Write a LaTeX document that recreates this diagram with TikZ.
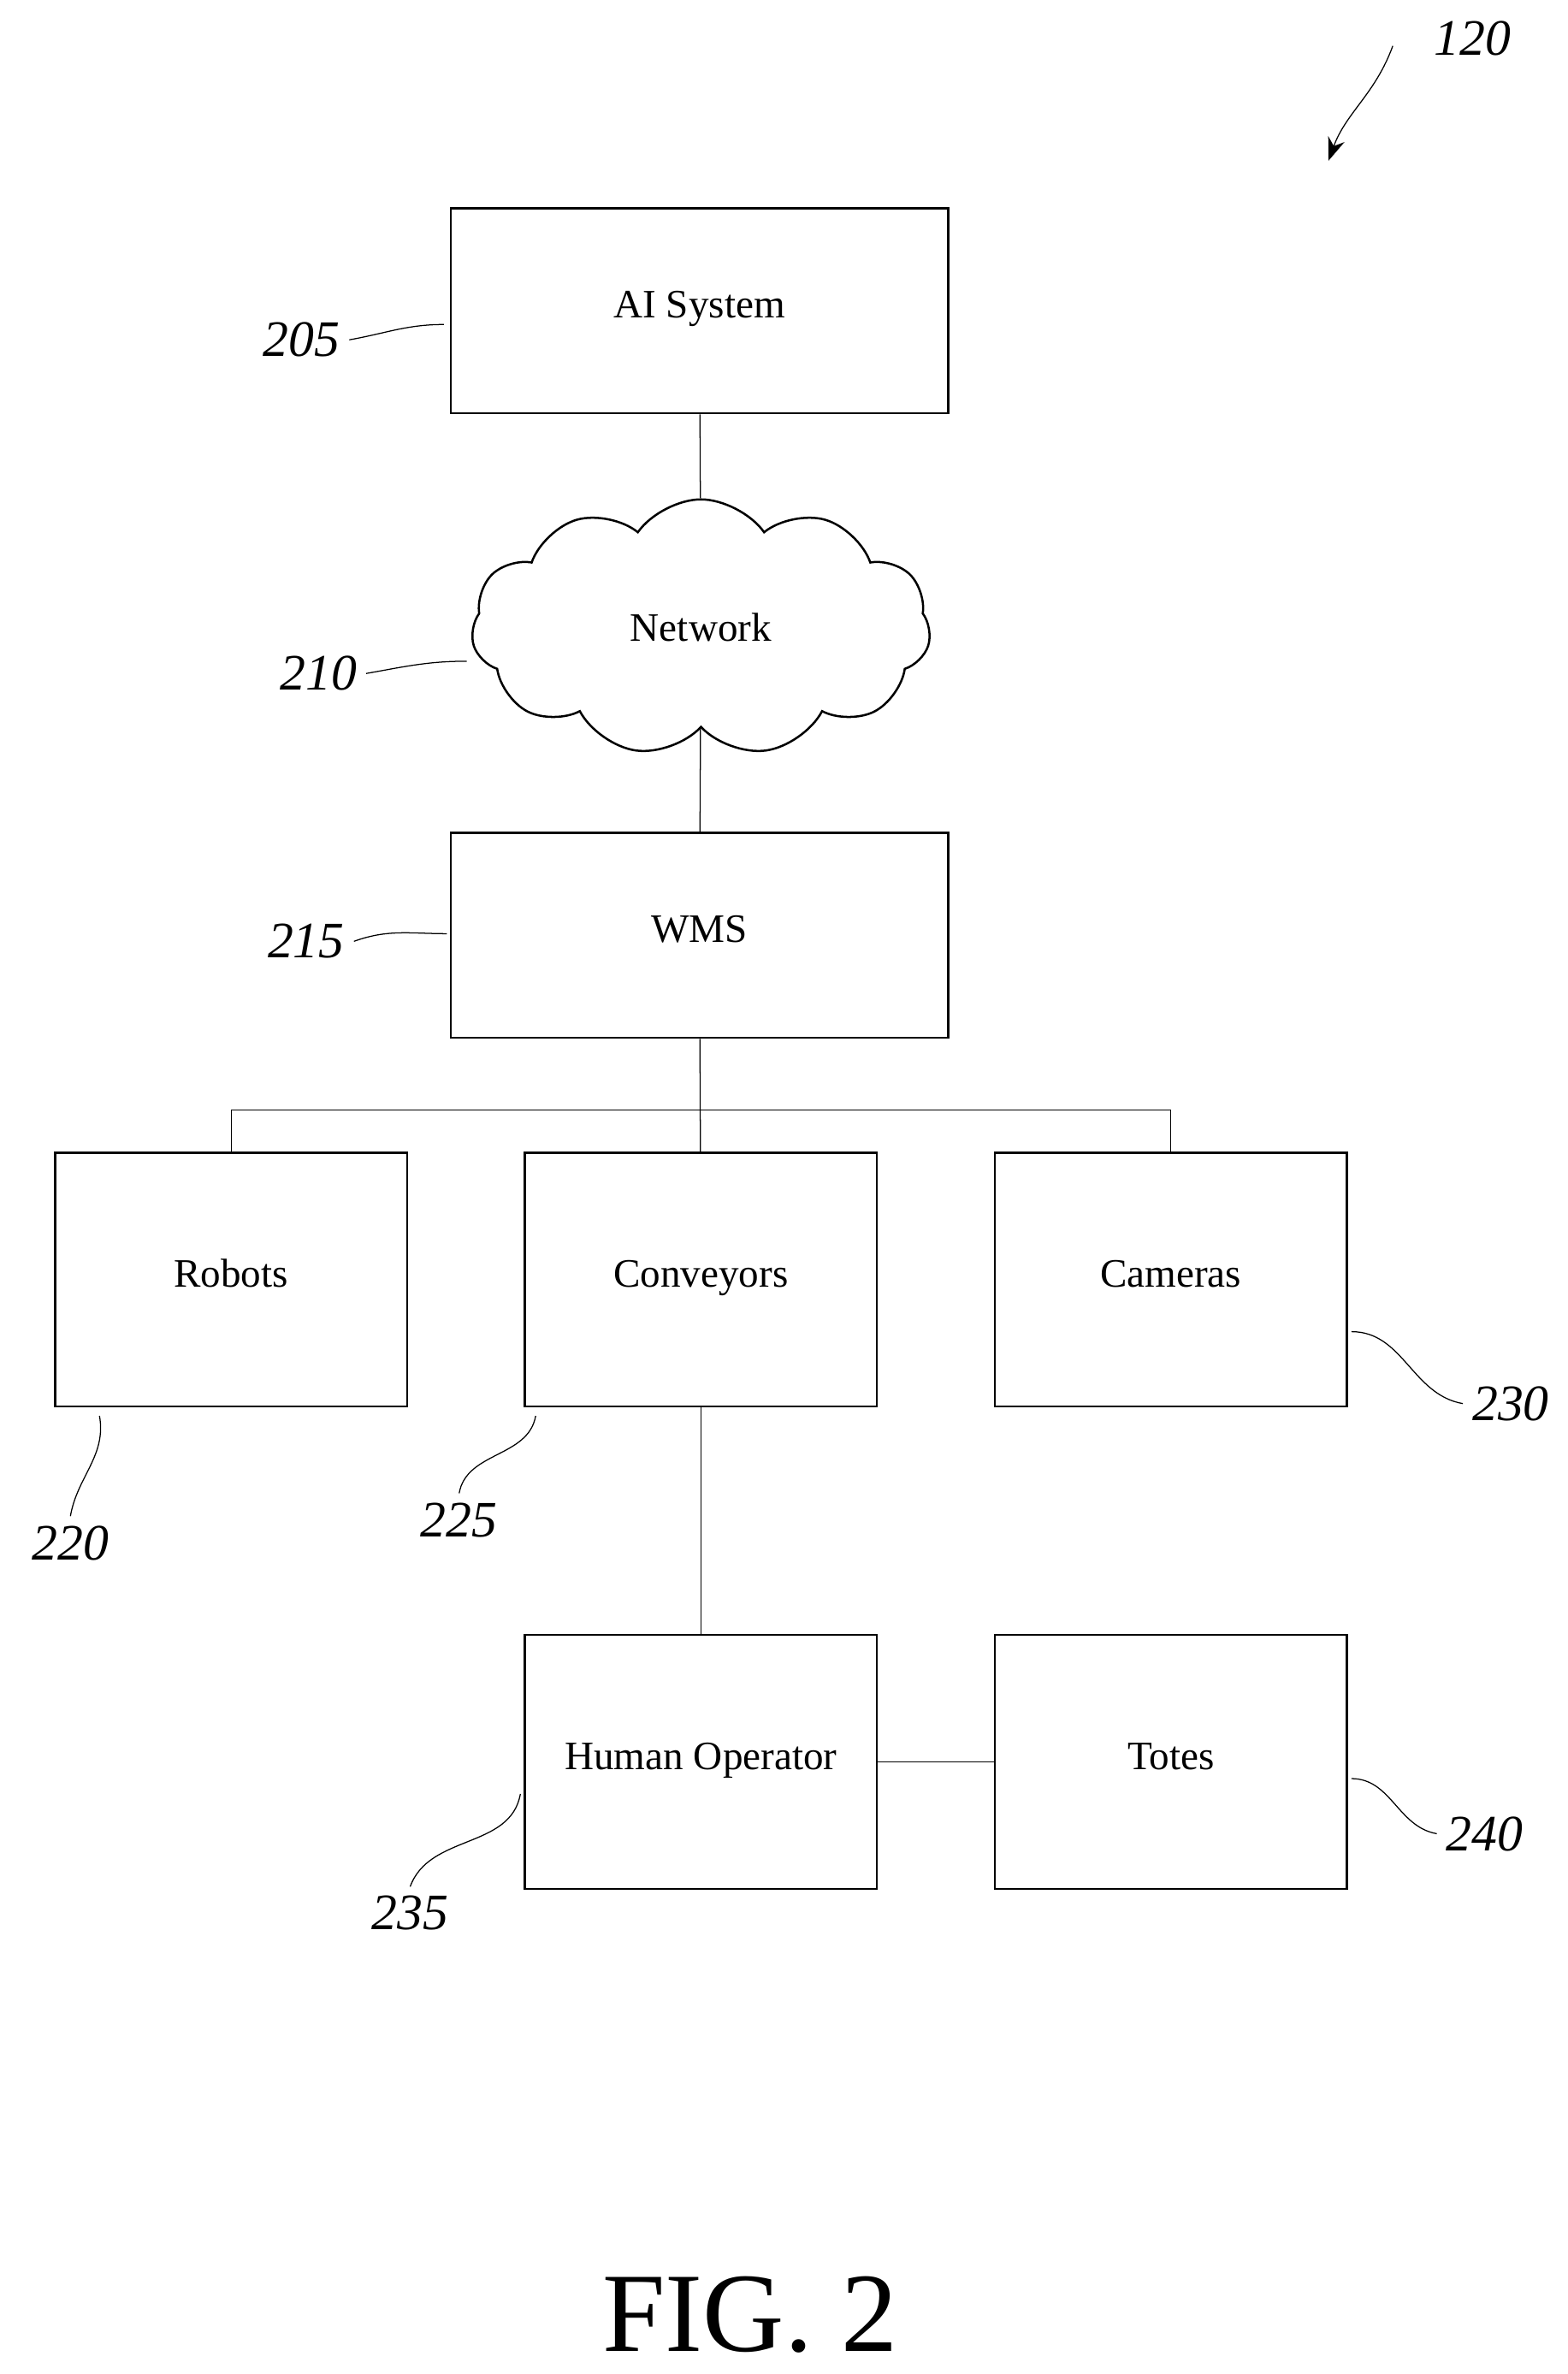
\documentclass[tikz,border=0pt]{standalone}
\usepackage{fontspec}
\setmainfont{Liberation Serif}
\usetikzlibrary{arrows.meta,positioning,shapes.symbols,calc}

\begin{document}
\begin{tikzpicture}[x=0.02cm, y=-0.02cm,
  box/.style={draw, thick, minimum width=4.6cm, minimum height=3.32cm, text height=1.5ex, text depth=0.3ex, font=\fontsize{15}{18}\selectfont},
  wide/.style={box, minimum width=6.5cm, minimum height=2.68cm},
  ref/.style={font=\itshape\fontsize{19}{22}\selectfont},
  lead/.style={thin}
]
\useasboundingbox (0,0) rectangle (1024,1551);
% blocks
\node[wide] (ai) at (457,203) {AI System};
\node[draw, thick, cloud, cloud puffs=11, cloud puff arc=110, aspect=1.8,
  minimum width=6.0cm, minimum height=3.35cm, font=\fontsize{15}{18}\selectfont] (net) at (458,410) {Network};
\node[wide] (wms) at (457,611) {WMS};
\node[box] (rob) at (151,836) {Robots};
\node[box] (conv) at (458,836) {Conveyors};
\node[box] (cam) at (765,836) {Cameras};
\node[box] (hum) at (458,1151) {Human Operator};
\node[box] (tote) at (765,1151) {Totes};
% links
\coordinate (bus) at (458,725);
\draw (ai) -- (net);
\draw (net) -- (wms);
\draw (wms) -- (conv);
\draw (rob.north) |- (bus) -| (cam.north);
\draw (conv) -- (hum);
\draw (hum) -- (tote);
% reference numerals
\node[ref] (r120) at (962,25) {120};
\draw[lead, -{Stealth[length=3mm]}] (910,30) to[out=250,in=70] (868,105);
\node[ref] (r205) at (197,222) {205};
\draw[lead] (r205.east) to[out=10,in=180] (290,212);
\node[ref] (r210) at (208,440) {210};
\draw[lead] (r210.east) to[out=10,in=180] (305,432);
\node[ref] (r215) at (200,615) {215};
\draw[lead] (r215.east) to[out=20,in=180] (292,610);
\node[ref] (r220) at (46,1008) {220};
\draw[lead] (r220.north) to[out=80,in=280] (65,925);
\node[ref] (r225) at (300,993) {225};
\draw[lead] (r225.north) to[out=80,in=260] (350,925);
\node[ref] (r230) at (987,917) {230};
\draw[lead] (r230.west) to[out=170,in=0] (883,870);
\node[ref] (r235) at (268,1250) {235};
\draw[lead] (r235.north) to[out=70,in=260] (340,1172);
\node[ref] (r240) at (970,1198) {240};
\draw[lead] (r240.west) to[out=170,in=0] (883,1162);
\node[font=\fontsize{42}{46}\selectfont] (fig) at (490,1512) {FIG. 2};
\end{tikzpicture}
\end{document}
